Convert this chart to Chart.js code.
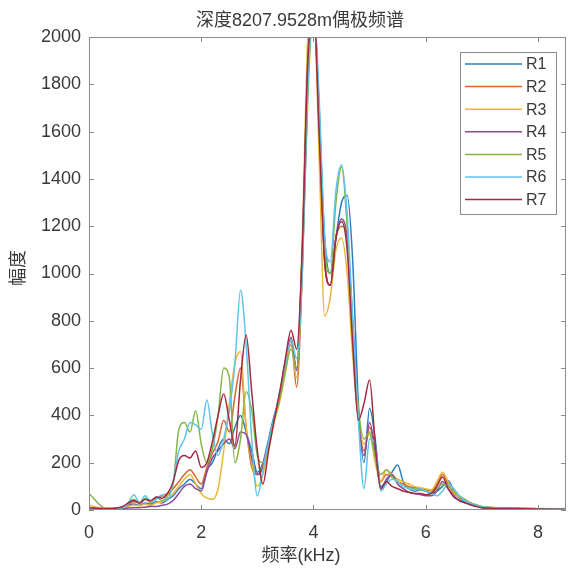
<!DOCTYPE html>
<html>
<head>
<meta charset="utf-8">
<script src="https://cdn.jsdelivr.net/npm/chart.js@4.4.1/dist/chart.umd.min.js"></script>
<style>
  html, body { margin: 0; padding: 0; background: #fff; }
  canvas { display: block; }
</style>
</head>
<body>
<canvas id="spectrumChart" width="570" height="571"></canvas>
<script>
// frequency axis (kHz), shared by all receivers
const freqKHz = [0, 0.3, 0.6, 0.7, 0.8, 0.9, 1.0, 1.1, 1.2, 1.3, 1.4, 1.5, 1.6, 1.7, 1.8, 1.9,
  2.0, 2.1, 2.2, 2.3, 2.4, 2.5, 2.6, 2.7, 2.8, 2.9, 3.0, 3.1, 3.2, 3.3, 3.4, 3.5, 3.6, 3.7, 3.8, 3.9,
  4.0, 4.1, 4.2, 4.3, 4.4, 4.5, 4.6, 4.7, 4.8, 4.9, 5.0, 5.1, 5.2, 5.3, 5.4, 5.5, 5.6, 5.7, 5.8, 5.9,
  6.0, 6.1, 6.2, 6.3, 6.4, 6.5, 6.6, 6.7, 6.8, 6.9, 7.0, 7.5, 8.0, 8.5];

// amplitude per receiver
const r1 = [8, 5, 10, 20, 25, 20, 30, 25, 35, 30, 45, 60, 90, 110, 130, 110,
  90, 170, 200, 260, 300, 280, 350, 400, 330, 250, 160, 200, 300, 400, 480, 620, 700, 600, 1050, 1850,
  2150, 1700, 1150, 1000, 1150, 1300, 1330, 1050, 450, 200, 430, 300, 100, 120, 160, 190, 120, 90, 80, 85,
  80, 70, 80, 100, 125, 80, 50, 35, 25, 18, 12, 8, 5, 4];
const r2 = [10, 6, 12, 25, 35, 30, 45, 35, 50, 60, 70, 90, 120, 150, 170, 140,
  110, 180, 240, 290, 380, 330, 480, 600, 350, 180, 150, 190, 280, 380, 470, 600, 720, 520, 1000, 1800,
  2100, 1650, 1050, 950, 1150, 1200, 1150, 750, 400, 250, 350, 250, 120, 150, 140, 120, 110, 100, 95, 90,
  85, 80, 110, 150, 110, 70, 55, 40, 30, 20, 14, 8, 5, 4];
const r3 = [20, 5, 8, 15, 20, 18, 25, 20, 30, 35, 50, 70, 100, 130, 150, 110,
  70, 50, 45, 90, 250, 450, 620, 670, 350, 200, 100, 150, 260, 370, 460, 580, 700, 560, 1150, 2000,
  2150, 1500, 820, 900, 1100, 1150, 1000, 650, 380, 280, 320, 200, 120, 170, 150, 130, 120, 110, 100, 95,
  90, 85, 120, 160, 120, 75, 55, 40, 30, 22, 15, 8, 6, 5];
const r4 = [5, 3, 5, 8, 10, 10, 12, 15, 15, 20, 25, 40, 70, 100, 110, 90,
  80, 160, 220, 250, 280, 300, 260, 330, 320, 220, 150, 180, 290, 390, 490, 630, 730, 590, 1100, 1900,
  2150, 1650, 1050, 950, 1150, 1230, 1150, 800, 400, 230, 370, 250, 90, 130, 150, 110, 90, 75, 70, 65,
  60, 60, 80, 120, 90, 60, 40, 30, 22, 15, 10, 6, 4, 3];
const r5 = [70, 8, 10, 30, 45, 25, 50, 30, 55, 40, 60, 110, 340, 370, 330, 420,
  280, 200, 260, 400, 600, 560, 200, 300, 500, 420, 230, 200, 270, 380, 470, 590, 680, 600, 1000, 1750,
  2100, 1700, 1100, 1000, 1300, 1450, 1200, 750, 430, 300, 330, 220, 150, 170, 140, 120, 100, 95, 90, 85,
  80, 75, 90, 110, 100, 80, 60, 45, 30, 22, 15, 8, 5, 4];
const r6 = [10, 5, 10, 30, 65, 30, 60, 35, 45, 65, 40, 120, 250, 300, 370, 360,
  340, 465, 320, 230, 300, 420, 620, 930, 700, 300, 60, 170, 290, 390, 500, 620, 720, 640, 1000, 1800,
  2100, 1750, 1150, 1050, 1350, 1460, 1250, 800, 380, 90, 300, 280, 80, 110, 130, 120, 100, 90, 85, 90,
  80, 70, 60, 80, 110, 90, 60, 40, 28, 20, 14, 8, 5, 4];
const r7 = [10, 5, 15, 30, 40, 30, 45, 40, 55, 50, 70, 120, 210, 230, 220, 250,
  180, 200, 290, 400, 490, 380, 270, 550, 740, 500, 250, 110, 250, 380, 500, 640, 760, 680, 1100, 1900,
  2150, 1600, 1050, 950, 1150, 1220, 1100, 700, 380, 450, 550, 280, 90, 120, 100, 90, 80, 75, 70, 70,
  65, 70, 100, 140, 90, 55, 40, 30, 22, 15, 10, 6, 4, 3];

const seriesNames = ['R1', 'R2', 'R3', 'R4', 'R5', 'R6', 'R7'];
const seriesValues = [r1, r2, r3, r4, r5, r6, r7];
const seriesColors = ['#2a7fc0', '#d9652f', '#eab838', '#8a4a96', '#86b448', '#5fc3ec', '#a32a40'];
const xTickValues = [0, 2, 4, 6, 8];

const FONT = "'Liberation Sans', 'Noto Sans CJK SC', Arial, sans-serif";
const TEXT_COLOR = '#3a3a3a';
const FRAME_COLOR = '#8c8c8c';

// box, inward ticks, legend and titles, drawn the MATLAB way
const matlabFrame = {
    id: 'matlabFrame',
    afterDatasetsDraw(chart) {
        const { ctx, chartArea: a, scales: { x, y } } = chart;
        const tickLen = 5;
        ctx.save();
        ctx.strokeStyle = FRAME_COLOR;
        ctx.lineWidth = 1;
        ctx.strokeRect(a.left + 0.5, a.top + 0.5, a.right - a.left - 1, a.bottom - a.top - 1);

        ctx.beginPath();
        x.ticks.forEach(t => {
            const px = Math.round(x.getPixelForValue(t.value)) + 0.5;
            ctx.moveTo(px, a.bottom); ctx.lineTo(px, a.bottom - tickLen);
            ctx.moveTo(px, a.top); ctx.lineTo(px, a.top + tickLen);
        });
        y.ticks.forEach(t => {
            const py = Math.round(y.getPixelForValue(t.value)) + 0.5;
            ctx.moveTo(a.left, py); ctx.lineTo(a.left + tickLen, py);
            ctx.moveTo(a.right, py); ctx.lineTo(a.right - tickLen, py);
        });
        ctx.stroke();

        // legend
        const lx = 460, ly = 52, lw = 96, lh = 162, rowH = 22.6;
        ctx.fillStyle = '#fff';
        ctx.fillRect(lx, ly, lw, lh);
        ctx.strokeStyle = FRAME_COLOR;
        ctx.strokeRect(lx + 0.5, ly + 0.5, lw, lh);
        ctx.font = '16px ' + FONT;
        ctx.textAlign = 'left';
        ctx.textBaseline = 'middle';
        chart.data.datasets.forEach((ds, i) => {
            const ry = ly + 12 + i * rowH;
            ctx.strokeStyle = ds.borderColor;
            ctx.lineWidth = 1.5;
            ctx.beginPath();
            ctx.moveTo(lx + 5, ry);
            ctx.lineTo(lx + 62, ry);
            ctx.stroke();
            ctx.fillStyle = TEXT_COLOR;
            ctx.fillText(ds.label, lx + 66, ry + 1);
        });

        // titles
        ctx.fillStyle = TEXT_COLOR;
        ctx.textAlign = 'center';
        ctx.font = '18px ' + FONT;
        ctx.fillText('深度8207.9528m偶极频谱', 300, 21);
        ctx.fillText('频率(kHz)', 301, 556);
        ctx.translate(19, 268);
        ctx.rotate(-Math.PI / 2);
        ctx.fillText('幅度', 0, 0);
        ctx.restore();
    }
};

new Chart(document.getElementById('spectrumChart'), {
    type: 'line',
    data: {
        datasets: seriesNames.map((name, i) => ({
            label: name,
            data: freqKHz.map((f, j) => ({ x: f, y: seriesValues[i][j] })),
            borderColor: seriesColors[i],
            borderWidth: 1.5,
            pointRadius: 0,
            cubicInterpolationMode: 'monotone',
            fill: false,
            clip: 0,
            order: seriesNames.length - 1 - i
        }))
    },
    options: {
        responsive: false,
        devicePixelRatio: 1,
        animation: false,
        layout: { padding: { top: 37, right: 4, left: 0, bottom: 0 } },
        plugins: {
            legend: { display: false },
            tooltip: { enabled: false }
        },
        scales: {
            x: {
                type: 'linear',
                min: 0,
                max: 8.5,
                afterBuildTicks: axis => { axis.ticks = xTickValues.map(v => ({ value: v })); },
                afterFit: axis => { axis.height = 61; },
                grid: { display: false, drawTicks: false },
                border: { display: false },
                ticks: {
                    padding: 12,
                    maxRotation: 0,
                    color: TEXT_COLOR,
                    font: { family: FONT, size: 18 },
                    callback: v => String(v)
                }
            },
            y: {
                min: 0,
                max: 2000,
                afterFit: axis => { axis.width = 89; },
                grid: { display: false, drawTicks: false },
                border: { display: false },
                ticks: {
                    stepSize: 200,
                    padding: 8,
                    color: TEXT_COLOR,
                    font: { family: FONT, size: 18 },
                    callback: v => String(v)
                }
            }
        }
    },
    plugins: [matlabFrame]
});
</script>
</body>
</html>
